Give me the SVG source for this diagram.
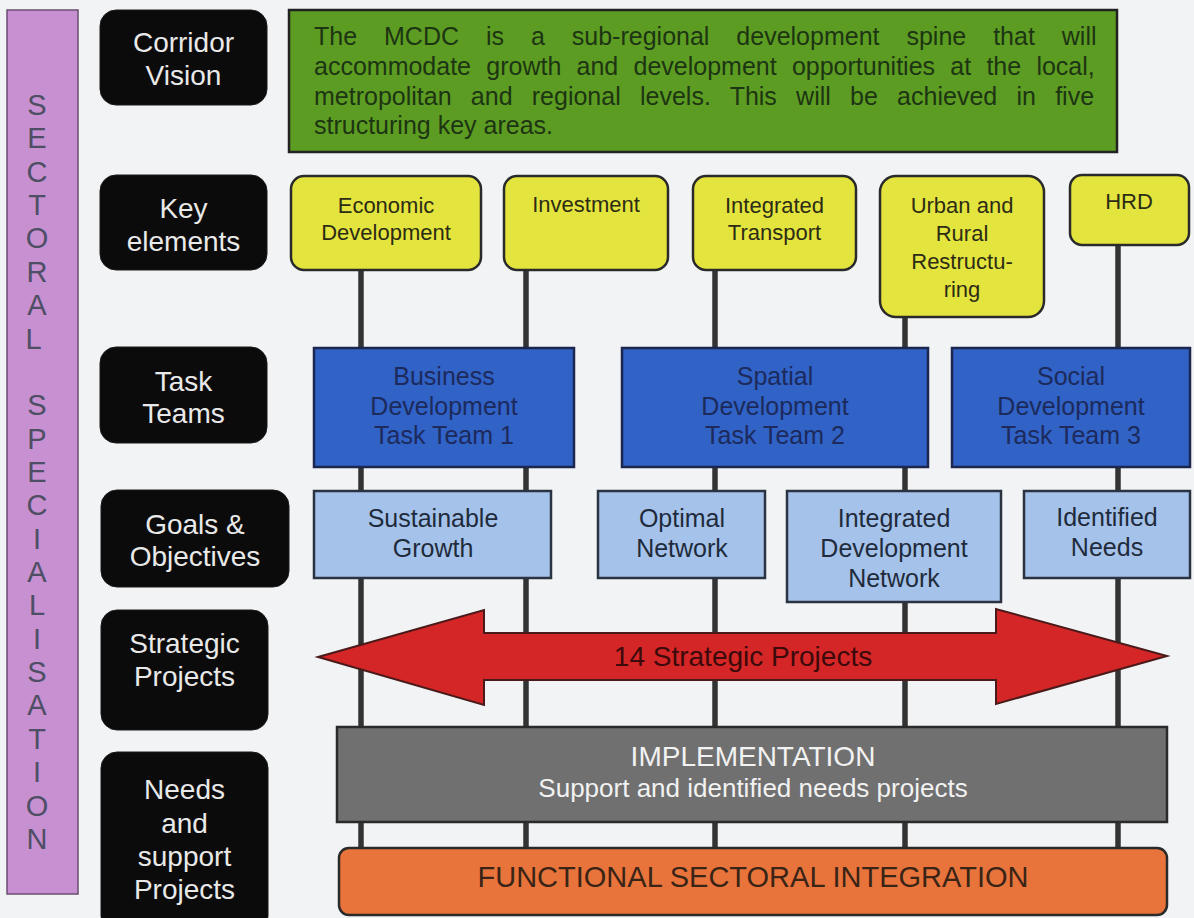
<svg xmlns="http://www.w3.org/2000/svg" width="1194" height="918" viewBox="0 0 1194 918">
<style>
text{font-family:"Liberation Sans",Arial,sans-serif;text-anchor:middle}
.lbl rect{fill:#0b0b0b;stroke:#1a1a1a;stroke-width:1}
.lbl text{fill:#e9e9e9;font-size:28px}
.yel rect{fill:#e4e43e;stroke:#2a2a2a;stroke-width:2.5}
.yel text{fill:#2c2c14;font-size:22px}
.team rect{fill:#3162c6;stroke:#1c2750;stroke-width:2.5}
.team text{fill:#1c2a5c;font-size:25px}
.goal rect{fill:#a5c3ea;stroke:#2b3340;stroke-width:2.5}
.goal text{fill:#1f2b3c;font-size:25px}
.conn line{stroke:#333;stroke-width:5.5}
.vert text{fill:#4e4e64;font-size:29px}
.green text{fill:#1d3512;font-size:25px;text-anchor:start}
</style>
<rect x="0" y="0" width="1194" height="918" fill="#f2f3f5"/>

<g id="sectoral" class="vert">
<rect x="7" y="10" width="71" height="884" fill="#c690d1" stroke="#6a4d72" stroke-width="1.5"/>
<text>
<tspan x="37" y="115">S</tspan><tspan x="37" y="148.4">E</tspan><tspan x="37" y="181.7">C</tspan><tspan x="37" y="215.1">T</tspan><tspan x="37" y="248.4">O</tspan><tspan x="37" y="281.8">R</tspan><tspan x="37" y="315.2">A</tspan><tspan x="37" y="348.5">L</tspan>
<tspan x="37" y="415.2">S</tspan><tspan x="37" y="448.6">P</tspan><tspan x="37" y="481.9">E</tspan><tspan x="37" y="515.3">C</tspan><tspan x="37" y="548.6">I</tspan><tspan x="37" y="582">A</tspan><tspan x="37" y="615.4">L</tspan><tspan x="37" y="648.7">I</tspan><tspan x="37" y="682.1">S</tspan><tspan x="37" y="715.4">A</tspan><tspan x="37" y="748.8">T</tspan><tspan x="37" y="782.2">I</tspan><tspan x="37" y="815.5">O</tspan><tspan x="37" y="848.9">N</tspan>
</text>
</g>

<g id="connectors" class="conn">
<line x1="361" y1="270" x2="361" y2="850"/>
<line x1="526" y1="270" x2="526" y2="850"/>
<line x1="715" y1="270" x2="715" y2="850"/>
<line x1="905" y1="316" x2="905" y2="850"/>
<line x1="1118" y1="245" x2="1118" y2="850"/>
</g>

<g id="lbl-corridor" class="lbl"><rect x="100" y="10" width="167" height="95" rx="16"/><text x="183.5" y="52">Corridor</text><text x="183.5" y="85">Vision</text></g>
<g id="lbl-key" class="lbl"><rect x="100" y="175" width="167" height="95" rx="16"/><text x="183.5" y="218">Key</text><text x="183.5" y="251">elements</text></g>
<g id="lbl-task" class="lbl"><rect x="100" y="347" width="167" height="96" rx="16"/><text x="183.5" y="391">Task</text><text x="183.5" y="423">Teams</text></g>
<g id="lbl-goals" class="lbl"><rect x="101" y="490" width="188" height="97" rx="16"/><text x="195" y="534">Goals &amp;</text><text x="195" y="566">Objectives</text></g>
<g id="lbl-strategic" class="lbl"><rect x="101" y="610" width="167" height="120" rx="16"/><text x="184.5" y="653">Strategic</text><text x="184.5" y="686">Projects</text></g>
<g id="lbl-needs" class="lbl"><rect x="101" y="752" width="167" height="180" rx="16"/><text x="184.5" y="799">Needs</text><text x="184.5" y="833">and</text><text x="184.5" y="866">support</text><text x="184.5" y="899">Projects</text></g>

<g id="vision" class="green">
<rect x="289" y="10" width="828" height="142" fill="#5c9c22" stroke="#222" stroke-width="2.5"/>
<text x="314" y="45" word-spacing="20">The MCDC is a sub-regional development spine that will</text>
<text x="314" y="75" word-spacing="8.3">accommodate growth and development opportunities at the local,</text>
<text x="314" y="105" word-spacing="12.3">metropolitan and regional levels. This will be achieved in five</text>
<text x="314" y="134">structuring key areas.</text>
</g>

<g id="ke-economic" class="yel"><rect x="291" y="176" width="190" height="94" rx="13"/><text x="386" y="213">Economic</text><text x="386" y="240">Development</text></g>
<g id="ke-investment" class="yel"><rect x="504" y="176" width="164" height="94" rx="13"/><text x="586" y="212">Investment</text></g>
<g id="ke-transport" class="yel"><rect x="693" y="176" width="163" height="94" rx="13"/><text x="774.5" y="213">Integrated</text><text x="774.5" y="240">Transport</text></g>
<g id="ke-urban" class="yel"><rect x="880" y="176" width="164" height="141" rx="16"/><text x="962" y="213">Urban and</text><text x="962" y="241">Rural</text><text x="962" y="269">Restructu-</text><text x="962" y="297">ring</text></g>
<g id="ke-hrd" class="yel"><rect x="1070" y="175" width="119" height="70" rx="12"/><text x="1129" y="209">HRD</text></g>

<g id="tt-business" class="team"><rect x="314" y="348" width="260" height="119"/><text x="444" y="385">Business</text><text x="444" y="415">Development</text><text x="444" y="444">Task Team 1</text></g>
<g id="tt-spatial" class="team"><rect x="622" y="348" width="306" height="119"/><text x="775" y="385">Spatial</text><text x="775" y="415">Development</text><text x="775" y="444">Task Team 2</text></g>
<g id="tt-social" class="team"><rect x="952" y="348" width="238" height="119"/><text x="1071" y="385">Social</text><text x="1071" y="415">Development</text><text x="1071" y="444">Task Team 3</text></g>

<g id="go-sustainable" class="goal"><rect x="314" y="491" width="237" height="87"/><text x="433" y="527">Sustainable</text><text x="433" y="557">Growth</text></g>
<g id="go-optimal" class="goal"><rect x="598" y="491" width="167" height="87"/><text x="682" y="527">Optimal</text><text x="682" y="557">Network</text></g>
<g id="go-integrated" class="goal"><rect x="787" y="491" width="214" height="111"/><text x="894" y="527">Integrated</text><text x="894" y="557">Development</text><text x="894" y="587">Network</text></g>
<g id="go-needs" class="goal"><rect x="1024" y="491" width="166" height="87"/><text x="1107" y="526">Identified</text><text x="1107" y="556">Needs</text></g>

<g id="strategic-arrow">
<polygon points="318,657 484,610 484,633 996,633 996,609 1167,656 996,704 996,680 484,680 484,705" fill="#d42626" stroke="#4a1a1a" stroke-width="2"/>
<text x="743" y="666" fill="#3c0a0a" font-size="28">14 Strategic Projects</text>
</g>

<g id="implementation">
<rect x="337" y="727" width="830" height="95" fill="#707070" stroke="#2a2a2a" stroke-width="2.5"/>
<text x="753" y="766" fill="#f2f2f2" font-size="28">IMPLEMENTATION</text>
<text x="753" y="797" fill="#f2f2f2" font-size="26">Support and identified needs projects</text>
</g>

<g id="functional">
<rect x="339" y="848" width="828" height="67" rx="10" fill="#e8743c" stroke="#2a2a2a" stroke-width="2.5"/>
<text x="753" y="887" fill="#3a2416" font-size="29">FUNCTIONAL SECTORAL INTEGRATION</text>
</g>
</svg>
